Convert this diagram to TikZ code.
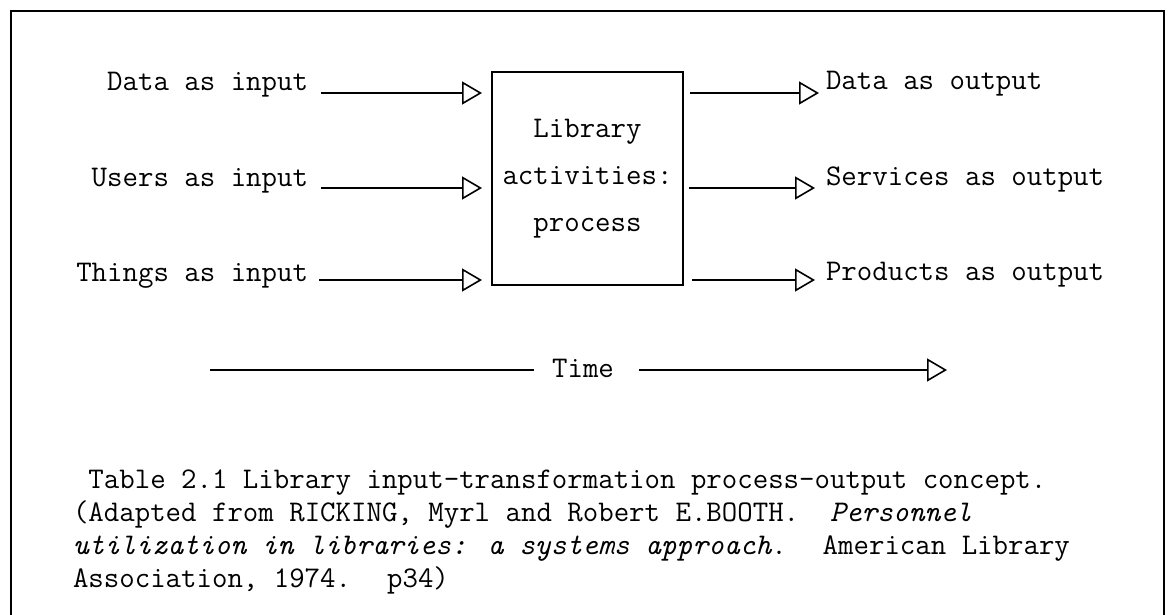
\documentclass[tikz,border=0pt]{standalone}
\usetikzlibrary{arrows.meta}
\begin{document}
\begin{tikzpicture}[x=1pt,y=-1pt,
  every node/.style={inner sep=0pt, outer sep=0pt,
    font=\ttfamily\fontsize{30}{33}\selectfont},
  procbox/.style={draw, line width=2pt, minimum width=191pt, minimum height=213pt,
    align=center, font=\ttfamily\fontsize{30}{47}\selectfont},
  flow/.style={line width=2pt,
    -{Triangle[open, length=20pt, width=23pt, line width=1.6pt]}},
  plainline/.style={line width=2pt},
  frameline/.style={line width=2.5pt}
]
\useasboundingbox (0,0) rectangle (1169,615);

% open frame
\draw[frameline] (11,615) -- (11,11) -- (1164,11) -- (1164,615);

% rows of the flows
\coordinate (r1) at (0,93);
\coordinate (r2) at (0,188);
\coordinate (r3) at (0,280);

% central process
\node[procbox] (proc) at (587.5,178.5) {Library\\activities:\\process};

% inputs
\node[anchor=base east] (din) at (308,91)  {Data as input};
\node[anchor=base east] (uin) at (308,186) {Users as input};
\node[anchor=base east] (tin) at (308,281) {Things as input};

% outputs
\node[anchor=base west] (dout) at (826,90)  {Data as output};
\node[anchor=base west] (sout) at (826,185) {Services as output};
\node[anchor=base west] (pout) at (826,280) {Products as output};

\draw[flow, shorten <=13pt, shorten >=10pt] (din.east |- r1) -- (proc.west |- r1);
\draw[flow, shorten <=13pt, shorten >=10pt] (uin.east |- r2) -- (proc.west |- r2);
\draw[flow, shorten <=11pt, shorten >=10pt] (tin.east |- r3) -- (proc.west |- r3);

\draw[flow, shorten <=7pt, shorten >=7pt]  (proc.east |- r1) -- (dout.west |- r1);
\draw[flow, shorten <=6pt, shorten >=11pt] (proc.east |- r2) -- (sout.west |- r2);
\draw[flow, shorten <=9pt, shorten >=11pt] (proc.east |- r3) -- (pout.west |- r3);

% time axis
\node[anchor=base] (time) at (583,377) {Time};
\coordinate (tstart) at (210,370);
\coordinate (tend) at (947,370);
\draw[plainline, shorten >=18pt] (tstart) -- (time.west |- tstart);
\draw[flow, shorten <=25pt] (time.east |- tend) -- (tend);

% caption
\node[anchor=north west, align=left] (cap) at (73,470)
 {\mbox{\ }Table 2.1 Library input-transformation process-output concept.\\
  (Adapted from RICKING, Myrl and Robert E.BOOTH.~ \textit{Personnel}\\
  \textit{utilization in libraries: a systems approach}.~ American Library\\
  Association, 1974.~ p34)};
\end{tikzpicture}
\end{document}
